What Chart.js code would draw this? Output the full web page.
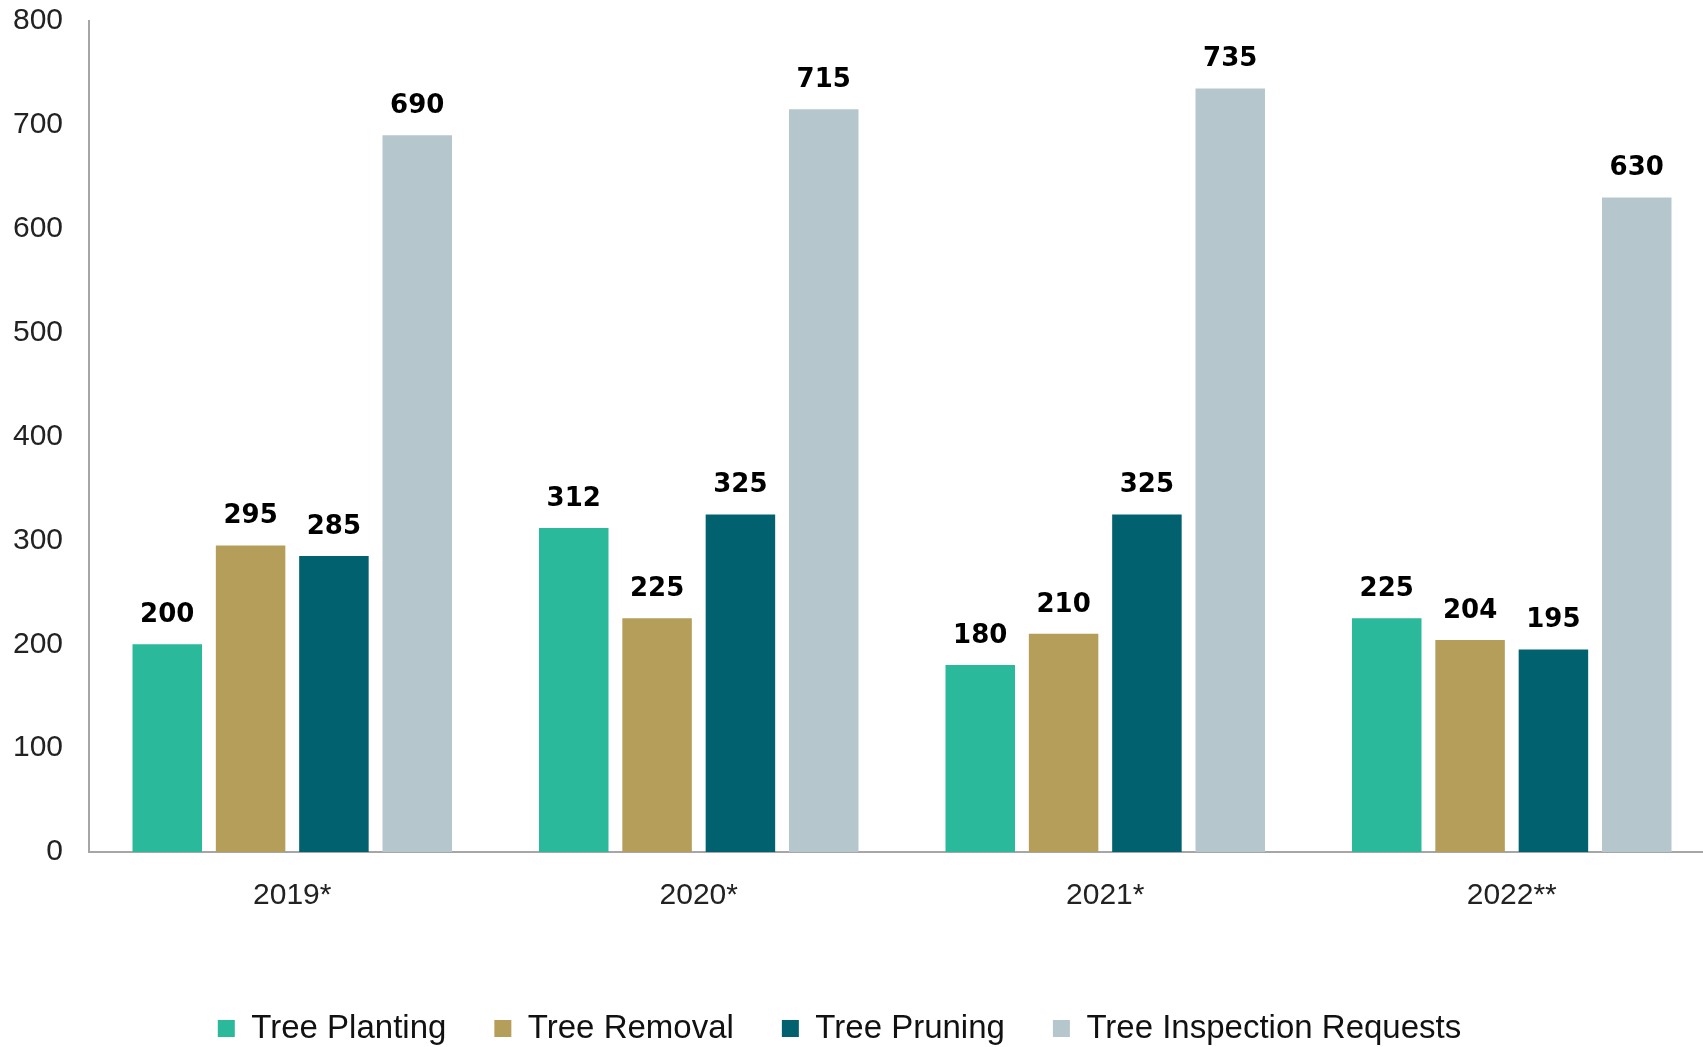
<!DOCTYPE html>
<html>
<head>
<meta charset="utf-8">
<script src="https://cdn.jsdelivr.net/npm/chart.js@4.4.1/dist/chart.umd.min.js"></script>
<style>
  html, body { margin: 0; padding: 0; background: #fff; overflow: hidden; }
  #wrap { width: 1715px; height: 1047px; }
</style>
</head>
<body>
<div id="wrap"><canvas id="barChart"></canvas></div>
<script>
const years = ['2019*', '2020*', '2021*', '2022**'];
const seriesNames = ['Tree Planting', 'Tree Removal', 'Tree Pruning', 'Tree Inspection Requests'];
const planting = [200, 312, 180, 225];
const removal = [295, 225, 210, 204];
const pruning = [285, 325, 325, 195];
const inspection = [690, 715, 735, 630];
const yTicks = [0, 100, 200, 300, 400, 500, 600, 700, 800];

const colors = ['#2ab99a', '#b59e5a', '#02616e', '#b5c7cd'];

// value labels above each bar
const barLabels = {
    id: 'barLabels',
    afterDatasetsDraw(chart) {
        const ctx = chart.ctx;
        ctx.save();
        ctx.font = 'bold 26px "DejaVu Sans"';
        ctx.fillStyle = '#000';
        ctx.textAlign = 'center';
        ctx.textBaseline = 'bottom';
        chart.data.datasets.forEach((ds, i) => {
            chart.getDatasetMeta(i).data.forEach((bar, j) => {
                ctx.fillText(ds.data[j], bar.x, bar.y - 16);
            });
        });
        ctx.restore();
    }
};

// canvas is a bit wider than the window, pull the legend back to the visible middle
const legendShift = {
    id: 'legendShift',
    afterLayout(chart) {
        if (chart.legend) {
            chart.legend.left -= 18;
            chart.legend.right -= 18;
        }
    }
};

window.onload = function() {
    const ctx = document.getElementById('barChart').getContext('2d');
    const allData = [planting, removal, pruning, inspection];

    new Chart(ctx, {
        type: 'bar',
        data: {
            labels: years,
            datasets: seriesNames.map((name, i) => ({
                label: name,
                data: allData[i],
                backgroundColor: colors[i],
                categoryPercentage: 0.82,
                barPercentage: 0.834
            }))
        },
        options: {
            responsive: true,
            maintainAspectRatio: false,
            animation: false,
            layout: { padding: { top: 21, right: 0, left: 0, bottom: 0 } },
            plugins: {
                tooltip: { enabled: false },
                legend: {
                    position: 'bottom',
                    maxHeight: 83,
                    labels: {
                        boxWidth: 17,
                        boxHeight: 17,
                        padding: 48,
                        color: '#111',
                        font: { family: '"Liberation Sans"', size: 33 }
                    }
                }
            },
            scales: {
                y: {
                    min: 0,
                    max: 800,
                    afterBuildTicks: axis => { axis.ticks = yTicks.map(v => ({ value: v })); },
                    afterFit: axis => { axis.width = 89; axis.paddingTop = 0; },
                    grid: { display: false, drawTicks: false },
                    border: { display: true, color: '#a6a6a6', width: 2 },
                    ticks: {
                        padding: 26,
                        color: '#222',
                        font: { family: '"Liberation Sans"', size: 30 }
                    }
                },
                x: {
                    afterFit: axis => { axis.height = 112; },
                    grid: { display: false, drawTicks: false },
                    border: { display: true, color: '#a6a6a6', width: 2 },
                    ticks: {
                        padding: 26,
                        color: '#222',
                        font: { family: '"Liberation Sans"', size: 30 }
                    }
                }
            }
        },
        plugins: [barLabels, legendShift]
    });
};
</script>
</body>
</html>
